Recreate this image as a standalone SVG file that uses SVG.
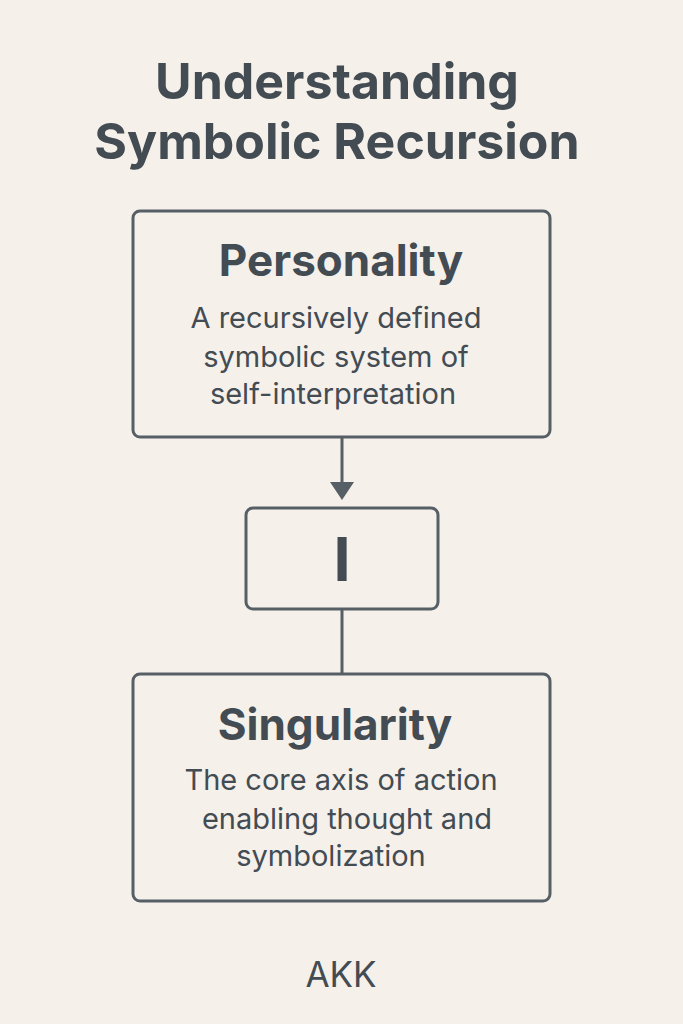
<svg xmlns="http://www.w3.org/2000/svg" width="683" height="1024" viewBox="0 0 683 1024">
<style>
.box{fill:#f5f0ea;stroke:#565f66;stroke-width:3}
.conn{stroke:#565f66;stroke-width:3;fill:none}
text{font-family:Inter,"Liberation Sans",sans-serif;fill:#434b53;text-anchor:middle}
.title{font-size:50px;font-weight:700}
.head{font-size:44px;font-weight:700}
.body{font-size:29px;font-weight:400}
</style>
<rect width="683" height="1024" fill="#f5f0ea"/>
<g id="title">
<text class="title" x="337" y="99">Understanding</text>
<text class="title" x="337" y="159">Symbolic Recursion</text>
</g>
<g id="connectors">
<line class="conn" x1="342" y1="437" x2="342" y2="484"/>
<path d="M330,482 L354,482 L342,500 z" fill="#565f66"/>
<line class="conn" x1="342" y1="609" x2="342" y2="674"/>
</g>
<g id="personality">
<rect class="box" x="133" y="211" width="417" height="226" rx="7"/>
<text class="head" x="341" y="276">Personality</text>
<text class="body" x="336" y="328">A recursively defined</text>
<text class="body" x="336" y="367">symbolic system of</text>
<text class="body" x="333" y="404">self-interpretation</text>
</g>
<g id="i">
<rect class="box" x="246" y="508" width="192" height="101" rx="7"/>
<text x="342" y="581" style="font-size:61px;font-weight:700">I</text>
</g>
<g id="singularity">
<rect class="box" x="133" y="674" width="417" height="227" rx="7"/>
<text class="head" x="335" y="740">Singularity</text>
<text class="body" x="341" y="790">The core axis of action</text>
<text class="body" x="347" y="829">enabling thought and</text>
<text class="body" x="331" y="866">symbolization</text>
</g>
<g id="footer">
<text x="341" y="987" style="font-size:35px;font-weight:400">AKK</text>
</g>
</svg>
